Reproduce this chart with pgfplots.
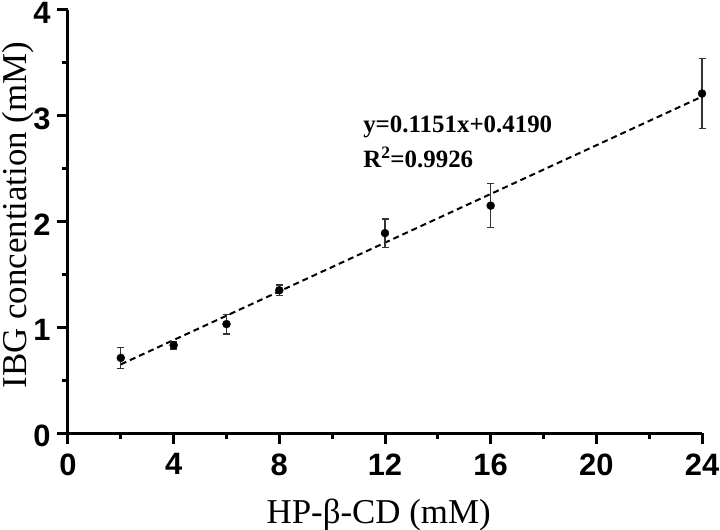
\documentclass[border=0pt]{standalone}
\usepackage{pgfplots}
\pgfplotsset{compat=1.18}
\usepackage{fontspec}
\setmainfont{Liberation Serif}
\newfontfamily\arialfont{Liberation Sans}
\begin{document}
\begin{tikzpicture}
\begin{axis}[
  scale only axis,
  width=634bp, height=423bp,
  xmin=0, xmax=24, ymin=0, ymax=4,
  axis lines=left,
  axis line style={-, line width=3bp},
  xtick={0,4,...,24}, ytick={0,1,2,3,4},
  minor xtick={2,6,...,22}, minor ytick={0.5,1.5,2.5,3.5},
  tick align=outside,
  major tick length=11bp, minor tick length=6bp,
  every tick/.style={black, line width=3bp},
  tick label style={font=\arialfont\bfseries\fontsize{31}{31}\selectfont},
  xticklabel style={yshift=-6bp},
  yticklabel style={xshift=-3bp, yshift=-3bp},
  /pgf/number format/assume math mode=true,
  xlabel={HP-β-CD (mM)},
  ylabel={IBG concentiation (mM)},
  label style={font=\fontsize{35}{35}\selectfont},
  xlabel style={at={(axis description cs:0.49,-0.2128)}, anchor=base},
  ylabel style={at={(axis description cs:-0.0655,0.515)}, anchor=base},
  clip=false,
]
\addplot[black, line width=2bp, dash pattern=on 6bp off 4bp, forget plot]
  coordinates {(2,0.649) (24,3.181)};
\addplot[only marks, mark=*, mark size=4bp, black,
  error bars/.cd, y dir=both, y explicit,
  error bar style={line width=1.2bp, color=black!80},
  error mark options={rotate=90, mark size=3.5bp, line width=1.2bp, color=black!80}]
  coordinates {
    (2,0.71) +- (0,0.10)
    (4,0.83) +- (0,0.035)
    (6,1.03) +- (0,0.093)
    (8,1.35) +- (0,0.05)
    (12,1.89) +- (0,0.134)
    (16,2.15) +- (0,0.206)
    (24,3.21) +- (0,0.33)
  };
\node[anchor=base west, inner sep=0pt, font=\bfseries\fontsize{25}{25}\selectfont] at (axis cs:11.17,2.837) {y=0.1151x+0.4190};
\node[anchor=base west, inner sep=0pt, font=\bfseries\fontsize{25}{25}\selectfont] at (axis cs:11.17,2.506) {R\textsuperscript{2}=0.9926};
\end{axis}
\pgfresetboundingbox
\path[use as bounding box] (-68bp,-97bp) rectangle (652bp,433bp);
\end{tikzpicture}
\end{document}
